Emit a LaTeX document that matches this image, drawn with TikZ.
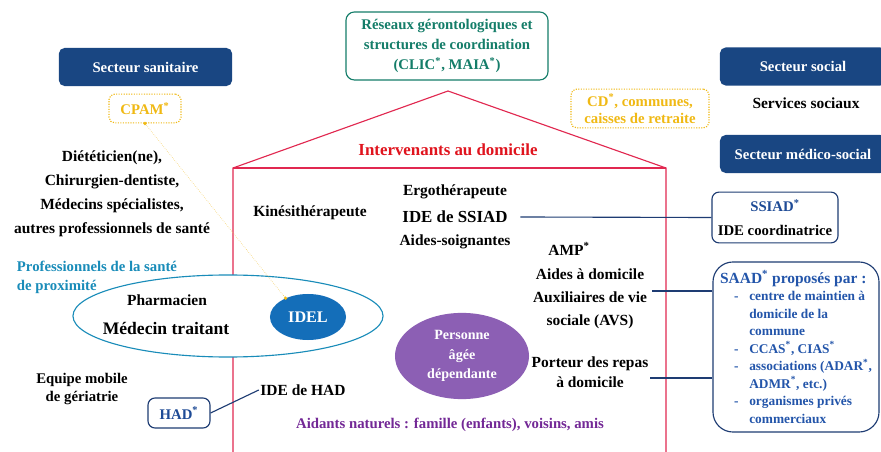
\documentclass[tikz,border=0pt]{standalone}
\usepackage{fontspec}
\setmainfont{Liberation Serif}
\usetikzlibrary{shapes.geometric,positioning}

\definecolor{bleufonce}{RGB}{25,70,130}
\definecolor{orfin}{RGB}{240,185,20}
\definecolor{rougemur}{RGB}{225,40,80}
\definecolor{rougetitre}{RGB}{224,20,30}
\definecolor{vertres}{RGB}{20,125,105}
\definecolor{cyanpro}{RGB}{25,140,185}
\definecolor{bleuidel}{RGB}{20,110,185}
\definecolor{violetpers}{RGB}{140,95,180}
\definecolor{violettxt}{RGB}{115,40,150}
\definecolor{bleucadre}{RGB}{30,60,115}
\definecolor{bleussiad}{RGB}{30,75,150}
\definecolor{bleusaad}{RGB}{35,85,170}

\newcommand{\etoile}{\textsuperscript{*}}

\tikzset{
  secteur/.style={fill=bleufonce, rounded corners=4pt, text=white, minimum height=0.95cm,
    font=\bfseries\fontsize{10.5}{12}\selectfont},
  financeur/.style={draw=orfin, densely dotted, thick, rounded corners=4pt, text=orfin,
    align=center, font=\bfseries\fontsize{10.5}{12}\selectfont},
  structure/.style={draw=bleucadre, thick, rounded corners=5pt, align=center,
    font=\bfseries\fontsize{10.5}{17}\selectfont},
  metier/.style={text=black, align=center, inner sep=1pt,
    font=\bfseries\fontsize{11}{17}\selectfont},
  lien/.style={draw=bleucadre, thick}
}

\begin{document}
\begin{tikzpicture}[x=0.025cm,y=-0.025cm]
  \useasboundingbox[fill=white] (0,0) rectangle (881,452);
  % la maison
  \coordinate (murG) at (233,452);
  \coordinate (avantG) at (233,168);
  \coordinate (faite) at (448,91);
  \coordinate (avantD) at (666,168);
  \coordinate (murD) at (666,452);
  \draw[rougemur, thick] (murG) -- (avantG) -- (faite) -- (avantD) -- (murD);
  \draw[rougemur, thick] (avantG) -- (avantD);
  \node[text=rougetitre, font=\bfseries\fontsize{12}{14}\selectfont] (titre) at (448,150) {Intervenants au domicile};
  % reseaux en haut
  \node[draw=vertres, thick, rounded corners=6pt, text=vertres, align=center, minimum width=5.05cm,
    minimum height=1.7cm, font=\bfseries\fontsize{10.5}{14.5}\selectfont] (reseaux) at (447,46)
    {Réseaux gérontologiques et\\structures de coordination\\(CLIC\etoile, MAIA\etoile)};
  % secteur sanitaire
  \node[secteur, minimum width=4.33cm] (sanitaire) at (145.5,67) {Secteur sanitaire};
  \node[financeur, minimum width=1.8cm, minimum height=0.72cm] (cpam) at (145,108.5) {CPAM\etoile};
  \node[metier] (autres) at (112,193.5) {Diététicien(ne),\\Chirurgien-dentiste,\\Médecins spécialistes,\\autres professionnels de santé};
  \node[anchor=west, align=left, text=cyanpro, font=\bfseries\fontsize{10.5}{13.5}\selectfont] (proxi) at (12,277.5)
    {Professionnels de la santé\\de proximité};
  \node[ellipse, draw=cyanpro, thick, fill=white, minimum width=7.75cm, minimum height=2.05cm] (proximite) at (228,316) {};
  \node[metier] (pharma) at (167,300) {Pharmacien};
  \node[metier, font=\bfseries\fontsize{12.5}{14}\selectfont] (medecin) at (166,328) {Médecin traitant};
  \node[ellipse, fill=bleuidel, text=white, minimum width=1.9cm, minimum height=1.15cm,
    font=\bfseries\fontsize{11.5}{13}\selectfont] (idel) at (308,317) {IDEL};
  \draw[orfin!70, densely dotted] (cpam.south) -- (idel.140);
  \fill[orfin] (cpam.south) circle (1.3pt);
  \fill[orfin] (idel.140) circle (1.3pt);
  \node[metier, font=\bfseries\fontsize{10.5}{12.8}\selectfont] (emg) at (82,389) {Equipe mobile\\de gériatrie};
  \node[structure, text=bleussiad, minimum width=1.55cm, minimum height=0.75cm] (had) at (179,413) {HAD\etoile};
  \node[metier] (idehad) at (303,390) {IDE de HAD};
  \draw[lien] (had.east) -- (idehad.west);
  % interieur
  \node[metier] (kine) at (310,213) {Kinésithérapeute};
  \node[metier] (ergo) at (455,192) {Ergothérapeute};
  \node[metier, font=\bfseries\fontsize{12}{14}\selectfont] (idessiad) at (455,217) {IDE de SSIAD};
  \node[metier] (aidessoig) at (455,242) {Aides-soignantes};
  \node[metier] (amp) at (569,249) {AMP\etoile};
  \node[metier, font=\bfseries\fontsize{11}{16.3}\selectfont] (aidesdom) at (590,299) {Aides à domicile\\Auxiliaires de vie\\sociale (AVS)};
  \node[metier, font=\bfseries\fontsize{11}{14}\selectfont] (repas) at (590,372) {Porteur des repas\\à domicile};
  \node[ellipse, fill=violetpers, text=white, minimum width=3.35cm, minimum height=1.65cm,
    align=center, font=\bfseries\fontsize{10}{14}\selectfont] (personne) at (462,356) {Personne\\âgée\\dépendante};
  \node[text=violettxt, font=\bfseries\fontsize{10.5}{12}\selectfont] (aidants) at (450,425)
    {Aidants naturels : famille (enfants), voisins, amis};
  % secteur social et medico-social
  \node[secteur, minimum width=4.15cm] (social) at (803,66.5) {Secteur social};
  \node[metier] (servsoc) at (806,103) {Services sociaux};
  \node[financeur, minimum width=3.45cm, minimum height=0.92cm] (cd) at (640,108.5) {CD\etoile, communes,\\caisses de retraite};
  \node[secteur, minimum width=4.15cm] (medsoc) at (803,154) {Secteur médico-social};
  \node[structure, minimum width=3.15cm, minimum height=1.27cm] (ssiad) at (775,217.5)
    {\textcolor{bleussiad}{SSIAD\etoile}\\IDE coordinatrice};
  \draw[lien] ([xshift=8pt]idessiad.east) -- (ssiad.west);
  \node[draw=bleucadre, thick, rounded corners=0.5cm, minimum width=4.15cm, minimum height=4.25cm,
    align=left, text=bleusaad, inner sep=4pt, font=\bfseries\fontsize{9.5}{12.4}\selectfont] (saad) at (796,347)
    {{\fontsize{11}{12.4}\selectfont SAAD\etoile{} proposés par :}\\
     \hspace*{0.35cm}\makebox[0.38cm][l]{-}centre de maintien à\\
     \hspace*{0.73cm}domicile de la\\
     \hspace*{0.73cm}commune\\
     \hspace*{0.35cm}\makebox[0.38cm][l]{-}CCAS\etoile, CIAS\etoile\\
     \hspace*{0.35cm}\makebox[0.38cm][l]{-}associations (ADAR\etoile,\\
     \hspace*{0.73cm}ADMR\etoile, etc.)\\
     \hspace*{0.35cm}\makebox[0.38cm][l]{-}organismes privés\\
     \hspace*{0.73cm}commerciaux};
  \coordinate (lienavs) at (652,291);
  \coordinate (lienrepas) at (650,378);
  \draw[lien] (lienavs) -- (lienavs -| saad.west);
  \draw[lien] (lienrepas) -- (lienrepas -| saad.west);
\end{tikzpicture}
\end{document}
